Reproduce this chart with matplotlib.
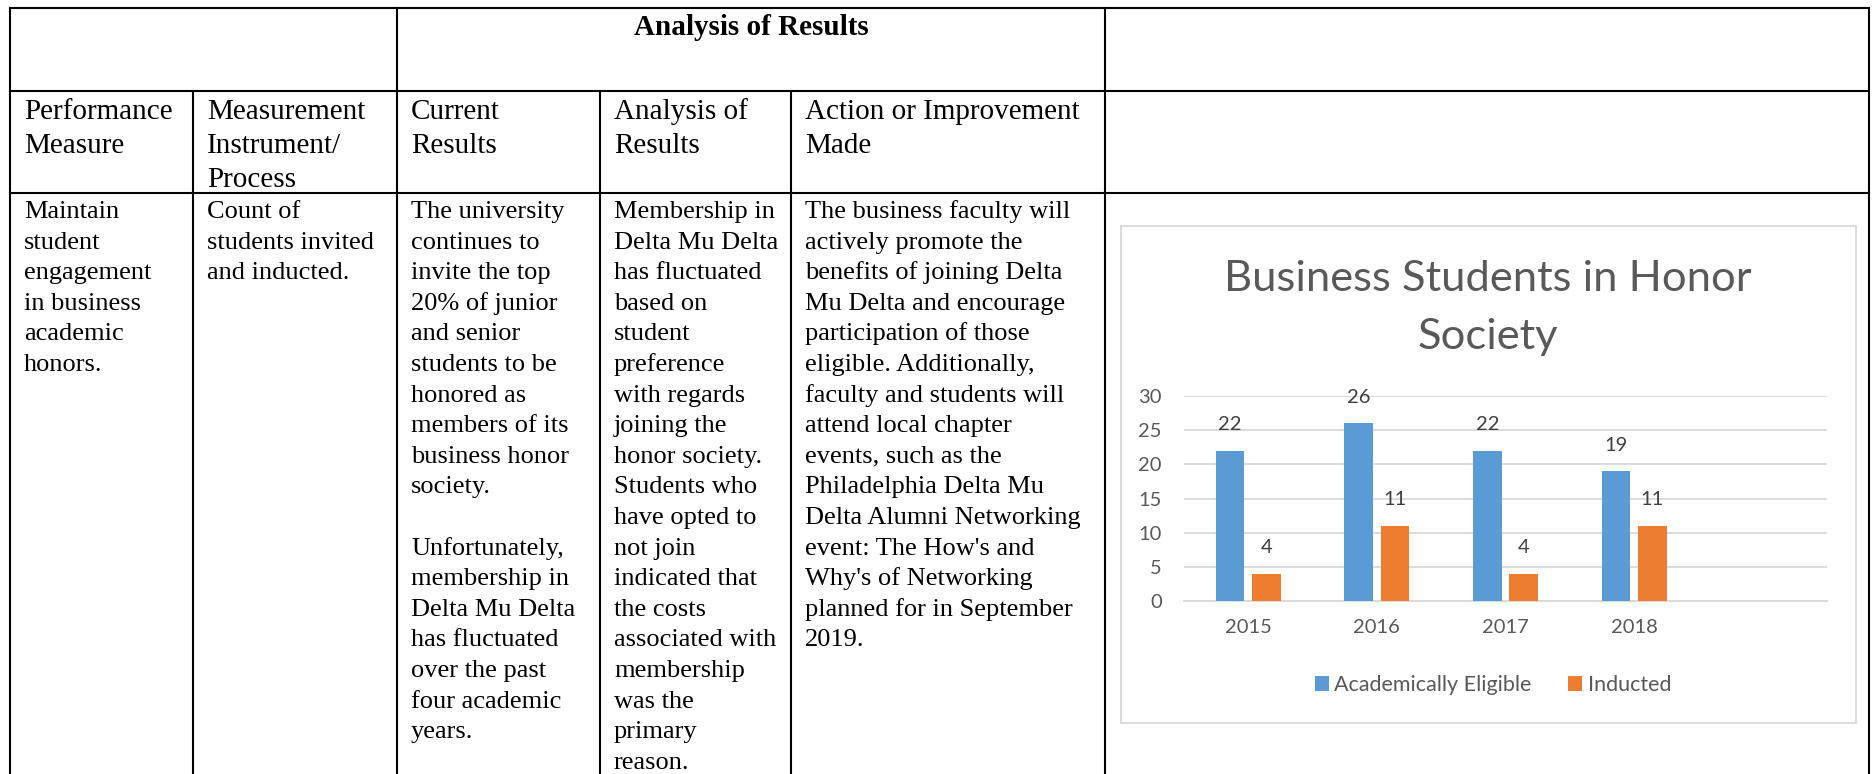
import matplotlib
matplotlib.use("Agg")
import matplotlib.pyplot as plt
import numpy as np
from matplotlib.patches import Rectangle

W, H = 1876, 774

# chart data
years = ["2015", "2016", "2017", "2018"]
eligible = [22, 26, 22, 19]
inducted = [4, 11, 4, 11]
series_names = ["Academically Eligible", "Inducted"]
chart_title = ["Business Students in Honor", "Society"]

# table text
top_title = "Analysis of Results"
headers = [
    ["Performance", "Measure"],
    ["Measurement", "Instrument/", "Process"],
    ["Current", "Results"],
    ["Analysis of", "Results"],
    ["Action or Improvement", "Made"],
]
body = [
    ["Maintain", "student", "engagement", "in business", "academic", "honors."],
    ["Count of", "students invited", "and inducted."],
    ["The university", "continues to", "invite the top", "20% of junior",
     "and senior", "students to be", "honored as", "members of its",
     "business honor", "society.", "", "Unfortunately,", "membership in",
     "Delta Mu Delta", "has fluctuated", "over the past", "four academic",
     "years."],
    ["Membership in", "Delta Mu Delta", "has fluctuated", "based on",
     "student", "preference", "with regards", "joining the",
     "honor society.", "Students who", "have opted to", "not join",
     "indicated that", "the costs", "associated with", "membership",
     "was the", "primary", "reason."],
    ["The business faculty will", "actively promote the",
     "benefits of joining Delta", "Mu Delta and encourage",
     "participation of those", "eligible. Additionally,",
     "faculty and students will", "attend local chapter",
     "events, such as the", "Philadelphia Delta Mu",
     "Delta Alumni Networking", "event: The How's and",
     "Why's of Networking", "planned for in September", "2019."],
]

SERIF = "Liberation Serif"
SANS = "Lato"
GRAY = "#595959"

fig = plt.figure(figsize=(W / 100, H / 100), dpi=100)
ax0 = fig.add_axes([0, 0, 1, 1])
ax0.set_xlim(0, W)
ax0.set_ylim(H, 0)
ax0.axis("off")

# table grid
col_x = [10, 193, 397, 600, 791, 1105, 1869]
row_y = [8, 91, 193]
lw = 1.5
for y in row_y:
    ax0.plot([col_x[0], col_x[-1]], [y, y], color="black", lw=lw,
             solid_capstyle="projecting")
for x in [col_x[0], col_x[2], col_x[5], col_x[6]]:
    ax0.plot([x, x], [row_y[0], row_y[1]], color="black", lw=lw)
for x in col_x:
    ax0.plot([x, x], [row_y[1], H], color="black", lw=lw)

ax0.text((col_x[2] + col_x[5]) / 2, 35, top_title, family=SERIF, fontsize=21,
         fontweight="bold", ha="center", va="baseline")

for i, lines in enumerate(headers):
    for j, line in enumerate(lines):
        ax0.text(col_x[i] + 14, 119 + 34 * j, line, family=SERIF, fontsize=21,
                 va="baseline")

for i, lines in enumerate(body):
    for j, line in enumerate(lines):
        ax0.text(col_x[i] + 14, 218 + 30.6 * j, line, family=SERIF, fontsize=19,
                 va="baseline")

# chart frame and title
ax0.add_patch(Rectangle((1121, 226), 735, 497, fill=False,
                        edgecolor="#D9D9D9", lw=1.3))
ax0.text(1488, 291, chart_title[0], family=SANS, fontsize=31.3, color=GRAY,
         ha="center", va="baseline")
ax0.text(1488, 349, chart_title[1], family=SANS, fontsize=31.3, color=GRAY,
         ha="center", va="baseline")

# bar chart
px0, px1, py0, py1 = 1184, 1827, 396, 601
ax = fig.add_axes([px0 / W, 1 - py1 / H, (px1 - px0) / W, (py1 - py0) / H])
ax.set_facecolor("none")
x = np.arange(len(years))
w = 0.223
off = 0.1415
b1 = ax.bar(x - off, eligible, w, color="#5B9BD5", label=series_names[0], zorder=3)
b2 = ax.bar(x + off, inducted, w, color="#ED7D31", label=series_names[1], zorder=3)
for bars, vals in [(b1, eligible), (b2, inducted)]:
    for r, v in zip(bars, vals):
        ax.annotate(str(v), (r.get_x() + r.get_width() / 2, v),
                    xytext=(0, 26), textcoords="offset pixels",
                    ha="center", va="center", family=SANS, fontsize=14.5,
                    color="#404040")
ax.set_xlim(-0.5, 4.5)
ax.set_ylim(0, 30)
ax.set_yticks(range(0, 31, 5))
ax.set_xticks(x)
ax.set_xticklabels(years)
ax.yaxis.grid(True, color="#D9D9D9", lw=1.3, zorder=0)
ax.set_axisbelow(True)
for s in ["top", "right", "left"]:
    ax.spines[s].set_visible(False)
ax.spines["bottom"].set_color("#D9D9D9")
ax.spines["bottom"].set_linewidth(1.3)
ax.tick_params(length=0, labelcolor=GRAY, labelsize=14.5)
ax.tick_params(axis="y", pad=16)
ax.tick_params(axis="x", pad=13)
for lab in ax.get_xticklabels() + ax.get_yticklabels():
    lab.set_family(SANS)

fig.legend(handles=[b1, b2], labels=series_names, loc="center",
           bbox_to_anchor=(1493 / W, 1 - 685 / H), ncol=2, frameon=False,
           handlelength=0.65, handleheight=0.65, handletextpad=0.25,
           columnspacing=1.7, prop={"family": SANS, "size": 15.5},
           labelcolor=GRAY)

fig.savefig("out.png", dpi=100)
